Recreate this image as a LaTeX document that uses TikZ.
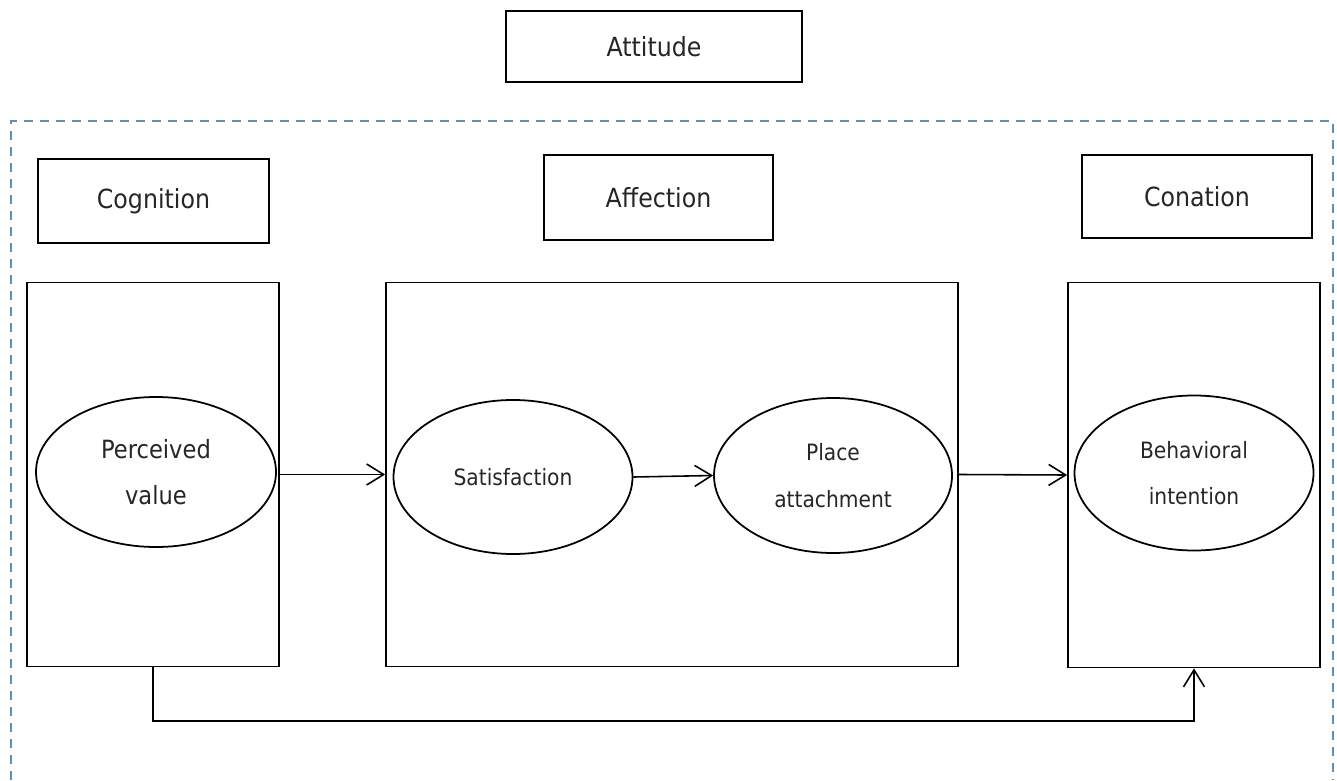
\documentclass[tikz,border=0pt]{standalone}
\usepackage{fontspec}
\setmainfont{DejaVu Sans Condensed}
\usetikzlibrary{shapes.geometric,arrows.meta}
\definecolor{framedash}{RGB}{96,140,182}
\definecolor{inkgray}{RGB}{38,38,38}

\begin{document}
\begin{tikzpicture}[x=0.02cm,y=-0.02cm,
  label/.style={draw=black,line width=1pt,inner sep=0pt,text=inkgray,
    font=\fontsize{12.8}{26.5}\selectfont},
  box/.style={label,rectangle,font=\fontsize{15}{18}\selectfont},
  frame/.style={draw=black,line width=1pt,rectangle,inner sep=0pt},
  oval/.style={label,ellipse,align=center},
  arr/.style={line width=0.9pt,-{Straight Barb[length=0.34cm,width=0.42cm]}}]
\useasboundingbox (0,0) rectangle (1337,780);
\draw[framedash,line width=0.8pt,dash pattern=on 0.18cm off 0.14cm]
  (11,780) -- (11,121) -- (1333,121) -- (1333,780);
\node[box,minimum width=296*0.02cm,minimum height=71*0.02cm] (attitude) at (654,46.5) {Attitude};
\node[box,minimum width=231*0.02cm,minimum height=84*0.02cm] (cognition) at (153.5,201) {Cognition};
\node[box,minimum width=229*0.02cm,minimum height=85*0.02cm] (affection) at (658.5,197.5) {Affection};
\node[box,minimum width=230*0.02cm,minimum height=83*0.02cm] (conation) at (1197,196.5) {Conation};
\node[frame,minimum width=252*0.02cm,minimum height=384*0.02cm] (cogframe) at (153,474.5) {};
\node[frame,minimum width=572*0.02cm,minimum height=384*0.02cm] (affframe) at (672,474.5) {};
\node[frame,minimum width=252*0.02cm,minimum height=385*0.02cm] (conframe) at (1194,475) {};
\node[oval,minimum width=240*0.02cm,minimum height=150*0.02cm,
  font=\fontsize{14.3}{26.5}\selectfont] (value) at (156,472) {Perceived\\value};
\node[oval,minimum width=239*0.02cm,minimum height=154*0.02cm] (satisf) at (513,477) {Satisfaction};
\node[oval,minimum width=238*0.02cm,minimum height=155*0.02cm] (place) at (833,475.5) {Place\\attachment};
\node[oval,minimum width=239*0.02cm,minimum height=155*0.02cm] (intent) at (1194,473) {Behavioral\\intention};
\coordinate (loopend) at (1194,721);
\draw[arr] (cogframe.east) -- (affframe.west);
\draw[arr] (satisf.east) -- (place.west);
\draw[arr] (affframe.east) -- (conframe.west);
\draw[arr] (cogframe.south) |- (loopend) -- (conframe.south);
\end{tikzpicture}
\end{document}
